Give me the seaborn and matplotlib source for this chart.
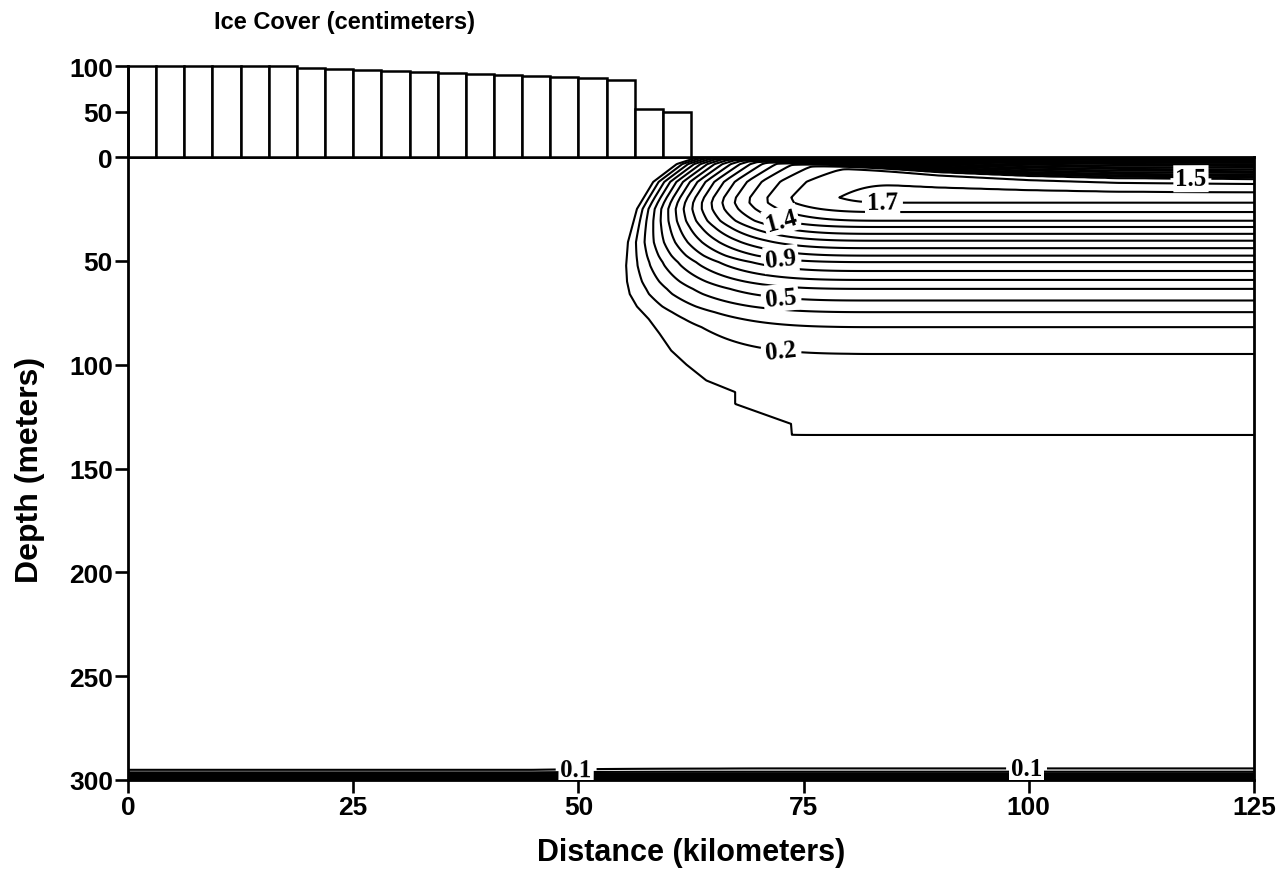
"""
Ice cover along the section and the temperature field beneath it.

Top: ice thickness per model cell. Bottom: contours of the water
temperature anomaly, built from the far-field profile, the position of
the outermost (0.1) contour and the bottom boundary layer read off the
original figure.
"""

import numpy as np
import pandas as pd
import matplotlib
matplotlib.use("Agg")
import matplotlib.pyplot as plt
import seaborn as sns

# ice cover per model cell (cm); cells are 3.125 km wide
ICE_CELL_KM = 3.125
ice_cm = [100, 100, 100, 100, 100, 99.5, 97.5, 96.5, 95.5, 94.5,
          93.5, 92.5, 91, 90, 88.5, 87.5, 86.5, 85, 53, 49]

# far-field profile at the right edge (depth in m, contour value)
profile_depth = [0, 1.5, 3.5, 6, 8.5, 10.6, 13, 15, 17, 19.5, 22, 26.5, 30.7,
                 33.7, 37, 40.3, 43.9, 47.5, 50.6, 54.9, 59.2, 63.5, 69.1,
                 74.7, 81.9, 94.8, 133.8, 180, 300]
profile_value = [0.0, 0.3, 0.6, 0.9, 1.2, 1.5, 1.6, 1.66, 1.70, 1.72, 1.70,
                 1.6, 1.5, 1.4, 1.3, 1.2, 1.1, 1.0, 0.9, 0.8, 0.7, 0.6, 0.5,
                 0.4, 0.3, 0.2, 0.1, 0.06, 0.04]

# outermost (0.1) contour: distance (km) at each depth (m)
front_depth = [0, 3.4, 12, 25, 41, 52.3, 60, 66, 72, 78, 85, 93.2, 100, 107.6,
               113.2, 118.9, 128.5, 133.8, 300]
front_km = [63.3, 60.9, 58.3, 56.5, 55.5, 55.3, 55.4, 55.7, 56.5, 57.8, 59.0,
            60.3, 62.0, 64.2, 67.4, 67.4, 73.6, 73.7, 73.7]

# thickness of the dense surface layer along the section
band_km = [0, 62, 66, 70, 80, 90, 100, 110, 125]
band_depth = [0.4, 0.4, 1.2, 2.5, 6, 10, 12.5, 14, 14.6]

# bottom boundary layer (added everywhere)
bottom_depth = [0, 289, 292, 294.5, 296, 297.5, 300]
bottom_value = [0, 0, 0.03, 0.06, 0.16, 0.35, 1.0]

contour_levels = [0.1, 0.2, 0.3, 0.4, 0.5, 0.6, 0.7, 0.8, 0.9, 1.0,
                  1.1, 1.2, 1.3, 1.4, 1.5, 1.6, 1.7]
# contour label: (level, distance km, approximate depth m)
label_spots = [
    (1.5, 117.9, 10.6),
    (1.7, 83.8, 18.0),
    (1.4, 72.6, 34.0),
    (0.9, 72.6, 50.6),
    (0.5, 72.6, 69.0),
    (0.2, 72.6, 94.8),
    (0.1, 49.8, 295.0),
    (0.1, 99.8, 295.0),
]

RAMP_KM = 28.8  # distance over which the far-field value is reached


def rise(u):
    u = np.clip(u, 0, 1)
    return 1 - (1 - u) ** 3


def rise_inv(f):
    f = np.clip(f, 0, 1)
    return 1 - (1 - f) ** (1 / 3)


def build_field():
    x = np.linspace(0, 125, 501)
    z = np.linspace(0, 300, 1201)
    X, Z = np.meshgrid(x, z)

    p_max = max(profile_value)
    z_core = profile_depth[int(np.argmax(profile_value))]
    band_full = band_depth[-1]

    # squeeze the surface layer towards the ice edge
    h = np.interp(X, band_km, band_depth)
    z_eff = np.where(
        Z < h, Z * band_full / h,
        np.where(Z < z_core,
                 band_full + (Z - h) * (z_core - band_full) / (z_core - h), Z))

    p_ref = np.where(z < z_core, p_max, np.interp(z, profile_depth, profile_value))
    x_zero = np.interp(z, front_depth, front_km) - RAMP_KM * rise_inv(0.1 / p_ref)

    field = (np.interp(z_eff, profile_depth, profile_value)
             * rise((X - x_zero[:, None]) / RAMP_KM)
             + np.interp(Z, bottom_depth, bottom_value))
    return x, z, field


def spot_on_level(x, z, field, level, x_km, z_guess):
    """Point on the given contour level in the column nearest x_km."""
    j = int(np.argmin(np.abs(x - x_km)))
    col = field[:, j] - level
    idx = np.where(np.sign(col[:-1]) != np.sign(col[1:]))[0]
    i = idx[np.argmin(np.abs(z[idx] - z_guess))]
    z_cross = z[i] + (z[i + 1] - z[i]) * col[i] / (col[i] - col[i + 1])
    return x[j], z_cross


sns.set_theme(style="ticks")
plt.rcParams["font.family"] = ["Liberation Sans", "DejaVu Sans"]
plt.rcParams["font.weight"] = "bold"
plt.rcParams["axes.labelweight"] = "bold"
for key in ["text.color", "axes.labelcolor", "xtick.color", "ytick.color",
            "axes.edgecolor"]:
    plt.rcParams[key] = "black"

W, H = 1286, 878
fig = plt.figure(figsize=(W / 100, H / 100), dpi=100)
ax = fig.add_axes([128 / W, 97 / H, 1126 / W, 623 / H])
ax_ice = fig.add_axes([128 / W, 720 / H, 1126 / W, 91 / H])

tick_style = dict(direction="out", length=9.4, width=1.9, labelsize=19, pad=1.5)

# --- ice cover bars ---
ice_df = pd.DataFrame({
    "km": [(i + 0.5) * ICE_CELL_KM for i in range(len(ice_cm))],
    "cm": ice_cm,
})
sns.barplot(data=ice_df, x="km", y="cm", native_scale=True, width=1.0,
            color="white", edgecolor="black", linewidth=1.8, errorbar=None,
            ax=ax_ice)
for p in ax_ice.patches:
    p.set_clip_on(False)
ax_ice.set_xlim(0, 125)
ax_ice.set_ylim(0, 100)
ax_ice.set_yticks([0, 50, 100])
ax_ice.set_xticks([])
ax_ice.set_xlabel("")
ax_ice.set_ylabel("")
sns.despine(ax=ax_ice, top=True, right=True, bottom=True)
ax_ice.spines["left"].set_linewidth(2)
ax_ice.tick_params(axis="y", **tick_style)
ax_ice.patch.set_alpha(0)

# --- temperature contours ---
x, z, field = build_field()
cs = ax.contour(x, z, field, levels=contour_levels, colors="black",
                linewidths=1.5)
manual = [spot_on_level(x, z, field, lev, xk, zg) for lev, xk, zg in label_spots]
ax.clabel(cs, manual=manual, inline=True, fmt="%.1f", fontsize=18,
          inline_spacing=3)
for t in cs.labelTexts:
    t.set_fontfamily("Liberation Serif")
    t.set_fontweight("bold")
    t.set_bbox(dict(facecolor="white", edgecolor="none", pad=1.5))
    t.set_zorder(5)

ax.set_xlim(0, 125)
ax.set_ylim(300, 0)
ax.set_xticks([0, 25, 50, 75, 100, 125])
ax.set_yticks([50, 100, 150, 200, 250, 300])
ax.tick_params(axis="both", **tick_style)
for side in ["left", "bottom", "right", "top"]:
    ax.spines[side].set_linewidth(2)
ax.set_xlabel("Distance (kilometers)", fontsize=22, labelpad=13)
ax.set_ylabel("Depth (meters)", fontsize=23, labelpad=17)

fig.text(344 / W, 1 - 22 / H, "Ice Cover (centimeters)", ha="center",
         va="center", fontsize=17, fontweight="bold")

fig.savefig("out.png", dpi=100)
